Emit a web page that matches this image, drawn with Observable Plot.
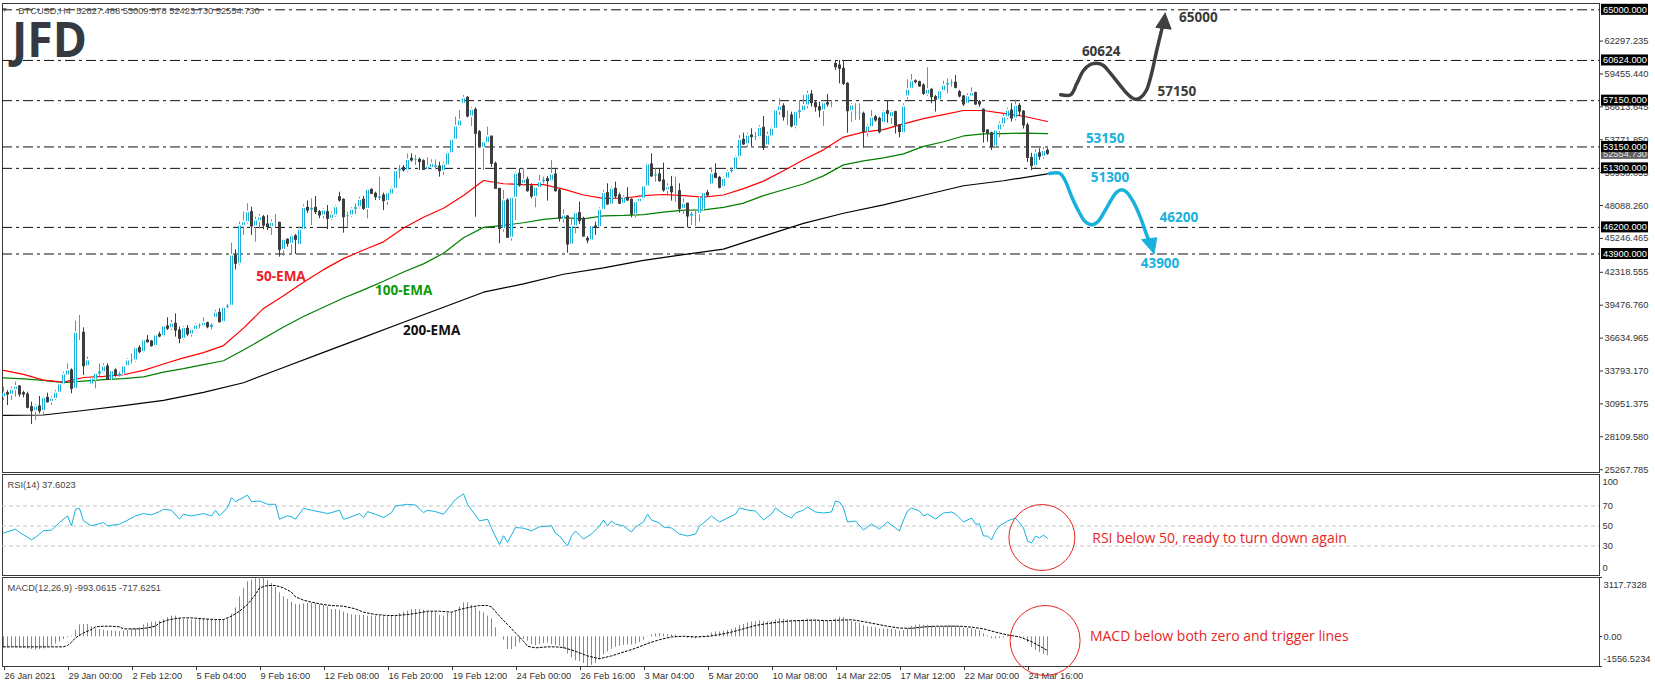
<!DOCTYPE html>
<html><head><meta charset="utf-8">
<script src="https://cdn.jsdelivr.net/npm/d3@7"></script>
<script src="https://cdn.jsdelivr.net/npm/@observablehq/plot@0.6"></script>
<style>
html,body{margin:0;padding:0;background:#fff;overflow:hidden;}
#wrap{position:relative;width:1655px;height:687px;overflow:hidden;background:#fff;}
</style></head><body><div id="wrap"></div>
<script>
// ---------------- DATA ----------------
const symbolTitle = "BTCUSD,H4  52827.488 53009.578 52423.730 52554.730";
const lastPrice = 52554.73;
const open = [
31530,31880,31730,32170,32450,31880,31760,30670,30320,30730,
30320,31470,31100,31390,31910,32630,33400,33840,32250,37000,
37090,34210,32630,33030,33490,33690,34180,33030,33840,33320,
33490,34210,34640,34700,35770,35420,36430,36340,35940,36920,
36800,37640,37490,37870,37290,36570,37440,36950,37350,37640,
37670,37930,37520,38390,38820,38010,39250,39420,43770,43050,
46310,46650,47520,46280,46740,47080,46450,46220,46510,46590,
44260,45130,44780,45440,44690,45990,47890,47660,47890,47520,
47230,47520,46940,47230,48810,48580,47080,47230,47720,47950,
48580,47800,49445,49100,48670,48960,48470,49040,49530,51060,
51340,51115,52125,51980,52040,51920,51170,51340,51340,51460,
51060,51550,52610,53765,54920,56880,57395,55780,56355,54430,
53075,53480,54050,51690,49530,46075,48520,45300,48755,50830,
49965,50310,49735,48810,49620,50110,50370,50195,50770,49390,
46940,47140,44720,46280,47430,46940,45210,45070,46280,46220,
47720,49160,48180,49530,48960,48240,48755,48580,47310,48380,
48670,49735,51635,50600,50770,50250,49390,49675,49240,49330,
47800,48240,47140,47320,47370,47720,49160,49910,50830,50480,
49675,50400,50970,51170,52265,53765,53365,54140,54000,54000,
54800,53270,54050,54720,56240,56650,55780,55870,54920,56070,
56240,56730,57680,56930,56590,56300,56930,56820,60330,60190,
59900,58600,56240,56010,56010,56010,54430,54860,55720,55580,
55210,56240,55720,56160,55000,54340,57510,58170,58830,58750,
58460,57680,58090,57450,57220,57970,58460,58660,58690,57880,
57510,56880,57510,57800,57020,56360,54570,54340,53190,54570,
55090,55700,56300,55600,56700,56200,55000,52200,51500,52600,52300,52827.488];
const high = [
32400,32100,32400,32830,32540,32050,31960,31100,30900,31590,
31590,31880,31590,32110,32830,33690,34410,33980,38100,38590,
37520,34990,33260,33600,34410,34410,34410,33840,33980,33690,
34270,34840,35280,35850,35990,36490,36860,36430,36950,37150,
37720,38390,38160,38730,37580,37640,37720,37440,37870,37870,
38390,38010,37870,39020,39160,39370,39540,44840,44260,46650,
47520,48240,47950,47080,47310,47230,47230,46850,47310,46650,
45210,45210,45560,45580,46220,48150,48490,48670,48870,47660,
47800,48090,47520,48090,49240,48670,47520,47890,48240,48810,
48870,49530,49530,49240,50540,49160,49240,49675,51170,51550,
51550,52555,52555,52410,52210,52040,52210,52040,52040,51835,
51835,52700,53850,55725,56300,57600,57510,56530,56530,54570,
53650,54860,54050,51835,49530,49390,48670,48810,50970,51260,
51260,50540,49965,49675,50685,50540,50600,51980,51260,49530,
47720,47230,46940,47520,48380,47080,45410,46360,46650,47890,
49390,49965,49675,50110,49160,48960,49620,48670,48470,48960,
49820,51750,52555,51260,51260,51750,49965,50600,50540,49965,
48670,48290,47520,47720,48810,49240,49390,51345,51690,50600,
50540,51115,51345,52410,54140,54340,54340,54720,54400,55000,
55780,54430,54860,56360,57310,56880,56240,56160,56240,57160,
57600,57970,58030,57160,57020,57160,57680,57160,60620,60620,
60620,58700,56880,56880,56880,56160,55090,56300,55870,55720,
56300,57110,56300,56240,55090,56880,58950,59410,58950,58830,
58600,59990,58170,57600,58090,58830,59030,58950,59320,58030,
57600,57740,58260,57880,57160,56440,54630,54430,54630,55290,
56000,56500,56900,57200,56900,56300,55200,52600,52900,53000,53100,53009.578];
const low = [
31240,30810,31240,31530,31530,31470,30520,29170,29520,30090,
29950,31010,30810,31240,31820,32540,33320,31820,32170,36430,
33400,34120,32540,32250,33260,33550,32970,32970,33260,33260,
33400,34120,34410,34560,35280,35330,36200,35850,35850,36660,
36720,37290,37290,36720,36140,36430,36780,36720,37230,37440,
37580,37440,37350,38300,37930,37930,39160,39370,42530,42910,
45500,46480,45500,44920,46070,45990,45930,45500,46220,43630,
43690,44490,43915,43860,44640,45930,47400,46360,47310,46940,
46940,45990,46800,47080,48380,45700,46220,47080,47310,47800,
47660,46940,49040,48520,48520,47660,48090,48960,49530,50400,
50990,50970,51840,51550,51115,51115,51115,51170,51170,50540,
50690,51460,52555,53710,54800,56880,55665,54915,47080,53075,
51115,53475,51400,49530,44780,45790,45300,45010,46800,49675,
49735,49240,48670,47890,49530,49965,48470,50110,49240,46650,
46560,43970,44635,45640,46450,45350,44780,45010,45500,46160,
47660,48090,48090,48670,48180,48180,48470,47030,47030,48290,
48580,49675,50540,50110,50110,49240,48870,48470,48380,47430,
47310,46160,46360,46280,46650,47660,48870,49820,50400,49530,
49530,50310,50885,51115,52125,53275,53130,53190,53700,53900,
52840,53190,53940,54630,55870,55380,55000,54800,54720,55580,
56160,56440,56590,56160,55670,54920,56590,56530,59760,58600,
58460,54340,55290,55440,55440,53070,53990,54800,55290,54280,
55090,55210,55090,54280,53940,54280,57220,58090,58600,58320,
57600,57510,56880,56160,57160,57880,57740,58320,58170,57390,
56650,56820,57450,56730,56590,53480,53560,52840,53070,53940,
54900,55500,55300,55400,55800,54700,51800,51100,51300,52000,52100,52423.73];
const close = [
31880,31760,32170,32450,31760,31760,30610,30320,30730,30320,
31470,31100,31390,31910,32630,33490,33840,32250,37090,37090,
34210,34700,33120,33550,33750,34180,33030,33780,33400,33550,
34180,34700,34760,35770,35420,36430,36280,35940,36860,36770,
37640,37440,37870,37290,36570,37490,36950,37350,37720,37780,
37950,37580,37780,38820,38010,39250,39420,43770,43050,46360,
46650,47520,46280,46800,47080,46360,46220,46590,46590,44260,
45125,44780,45440,45125,45990,47890,47660,47890,47520,47230,
47660,46940,47310,47950,48520,47080,47230,47720,47950,48580,
47800,49445,49100,48810,48870,48470,49160,49530,51060,51260,
51115,52040,51980,52125,51840,51170,51460,51690,51550,51060,
51635,52610,53765,54920,55435,57360,55780,56355,54285,53190,
53565,54050,51690,49530,46075,48520,45300,48755,50830,49820,
50310,49330,48870,49620,50110,50310,50195,50770,49330,46940,
47230,44720,46280,47430,46740,45410,45070,46280,46160,47720,
49160,48180,49530,48870,48240,48755,48520,47310,48380,48670,
49735,51635,50600,50770,50195,49390,49675,49240,49330,47800,
48240,47140,47370,47430,48755,49160,48960,50830,50480,49620,
50400,50970,51170,52265,53765,53365,54140,54000,54050,54800,
53070,54140,54720,56300,56650,55720,55870,54920,56160,56300,
56730,57680,56930,56590,56300,56930,56820,56880,60040,59900,
58600,56240,56730,56070,56070,54430,54920,55670,55440,54430,
56160,56010,56160,55000,54430,56650,58090,58830,58750,58370,
57740,58090,57450,57220,57970,58460,58660,58690,58260,57510,
56820,57510,57800,56820,56820,54430,54340,53130,54570,55090,
55700,56300,55600,56700,56200,55000,52200,51500,52600,52300,52800,52554.73];

// EMA readings (bar index, price)
const ema50Bar = [0,5,10,15,20,25,30,35,40,45,50,55,60,65,70,75,80,85,90,95,100,105,110,115,120,125,130,135,140,145,150,155,160,165,170,175,180,185,190,195,200,205,210,215,220,225,230,235,240,245,250,255,261];
const ema50Val = [33840,33500,33000,32830,33230,33330,33470,33850,34400,34930,35380,35990,37500,39200,40300,41450,42550,43500,44250,44950,46150,47080,47850,48950,50250,49970,49900,49900,49500,49000,48700,48720,48950,49040,48950,48820,49000,49550,50200,51100,52050,52900,54000,54430,54650,55150,55600,55950,56300,56300,56050,55800,55350];
const ema100Bar = ema50Bar;
const ema100Val = [33200,33110,32990,32780,32920,33040,33130,33280,33700,33990,34350,34680,35600,36600,37600,38500,39300,40100,40800,41550,42350,43050,43970,45300,46200,46380,46600,46900,47050,46940,47200,47230,47300,47520,47700,47720,47930,48300,48950,49450,49950,50650,51600,51950,52200,52550,53200,53600,54100,54280,54300,54350,54300];
const ema200Bar = [0,10,20,30,40,50,60,70,80,90,100,110,120,130,140,150,160,170,180,190,200,210,220,230,240,250,261];
const ema200Val = [29950,29990,30380,30800,31250,31950,32780,34100,35400,36700,38000,39300,40600,41320,42150,42700,43350,43850,44320,45450,46550,47420,48150,48980,49800,50230,50830];

// Horizontal levels
const levels = [65000, 60624, 57150, 53150, 51300, 46200, 43900];
const priceTicks = [62297.235,59455.440,56613.645,53771.850,50930.055,48088.260,45246.465,42318.555,39476.760,36634.965,33793.170,30951.375,28109.580,25267.785];

// RSI(14) readings
const rsiBar = [0,3,4,7,8,10,12,14,16,17,18,19,20,22,25,26,29,31,33,35,37,39,40,42,44,45,47,50,52,53,54,56,57,58,61,62,64,66,68,69,71,72,73,75,77,80,81,84,85,86,89,90,91,93,95,97,98,101,103,105,106,108,110,113,115,116,119,121,122,124,125,126,128,130,132,134,137,138,
139,141,142,143,145,147,149,150,151,152,153,155,157,158,160,161,162,164,165,167,169,171,173,174,175,177,179,181,183,184,186,188,190,192,193,195,197,198,200,201,203,205,207,208,209,210,211,213,215,217,219,221,223,224,225,226,227,229,230,231,233,235,237,238,239,240,242,243,244,245,246,247,248,249,251,253,255,256,257,258,259,260,261];
const rsiVal = [42.9,46.9,43.6,36.3,38.6,45.2,45.9,53.5,60.1,50.2,66.7,67.7,55.1,50.2,53.5,50.2,51.8,55.8,60.1,62.4,61.1,64.4,66.7,65.7,56.8,61.7,60.1,62.4,60.1,65.7,60.1,68.3,78.3,74.3,80.9,74.3,75,71.7,71.7,56.8,60.1,59.1,56.8,67.7,65.7,63.4,62.4,65.7,56.8,57.8,62.4,58.4,64.4,61.7,58.4,63.4,70,71.7,71,63.4,65.7,64.4,61.7,76.6,82.2,71.7,55.1,56.8,47.8,31.3,40.2,33.6,48.5,47.8,45.2,49.2,50.2,42.6,
40,30,40,45,37,42,50,56,50,55,52,50,44,49,54,62,56,53,49,48,42,40,42,50,53,60,54,58,62,68,66,65,56,62,68,62,58,63,66,69,64,63,64,75,74,68,54,55,46,52,47,54,48,45,56,65,68,65,60,62,57,63,64,62,58,54,58,52,52,40,40,36,45,50,55,58,48,35,33,40,38,41,37.6023];
const rsiLevels = [70, 50, 30];
const rsiAxis = [100, 70, 50, 30, 0];

// MACD(12,26,9) main (histogram), one per bar
const macdMain = [
-578,-578,-525,-578,-578,-613,-630,-665,-700,-665,
-630,-545,-490,-380,-270,-140,-53,35,350,630,
648,648,525,420,385,350,315,315,298,280,
300,340,400,440,473,630,700,770,788,823,
900,1000,1086,1086,963,911,911,890,876,911,
911,911,876,876,876,911,946,1190,1523,2100,
2550,2900,2980,3050,3117.7,3080,2960,2800,2600,2311,
2101,1961,1821,1698,1698,1730,1751,1751,1730,1698,
1646,1576,1436,1436,1401,1296,1226,1156,1138,1121,
1121,1086,1086,1086,1086,1051,1051,1086,1121,1226,
1296,1348,1436,1436,1436,1401,1320,1296,1261,1121,
1086,1226,1261,1296,1576,1786,1786,1646,1523,1348,
1261,1090,946,473,0,-175,-665,-665,-525,-315,
-140,-228,-403,-455,-403,-350,-315,-403,-455,-490,
-650,-900,-1100,-1250,-1300,-1400,-1556.5,-1500,-1400,-1200,
-950,-800,-650,-550,-500,-450,-420,-430,-380,-300,
-180,20,100,160,170,140,120,100,90,20,
-20,-80,-100,-110,-50,40,80,200,260,260,
290,340,390,470,590,650,730,780,810,850,
790,790,810,890,950,930,910,850,860,870,
890,930,910,870,830,820,800,780,940,1040,
1010,870,810,750,690,590,530,510,480,410,
410,410,400,360,300,330,440,550,610,630,
610,610,570,530,530,550,570,580,570,530,
460,430,420,370,320,160,50,-90,-110,-90,
-60,-30,-10,20,10,-60,-310,-560,-710,-830,-930,-993.0615];
// MACD signal line readings (bar index, value)
const sigBar = [0,15,16,17,18,20,22,23,25,27,29,30,32,34,36,38,39,41,43,45,47,50,53,55,57,59,61,63,64,66,68,70,72,73,75,77,80,82,85,88,90,93,96,98,101,104,106,109,112,114,117,119,121,122,124,126,128,130,131,133,136,138,
140,143,146,149,152,155,158,161,164,167,170,173,176,179,182,185,188,191,194,197,200,203,206,209,212,215,218,221,224,227,230,233,236,239,242,245,248,251,254,257,259,261];
const sigVal = [-525,-525,-455,-280,-53,210,385,525,560,560,525,420,420,420,473,560,735,876,963,998,998,946,911,911,1086,1348,1698,2224,2574,2697,2697,2574,2346,2101,1926,1821,1698,1646,1611,1471,1296,1173,1121,1121,1173,1261,1348,1348,1296,1436,1576,1646,1646,1576,1086,648,210,-228,-490,-578,-525,-525,
-560,-760,-1000,-1150,-1000,-800,-600,-350,-150,0,30,0,20,120,250,420,600,700,780,840,860,880,850,880,900,800,680,560,460,450,520,560,560,560,510,420,250,100,0,-250,-480,-717.6251];
const macdAxis = [3117.7328, 0, -1556.5234];

// x axis labels (every 16 bars)
const xTickBars = [0,16,32,48,64,80,96,112,128,144,160,176,192,208,224,240,256];
const xLabels = ["26 Jan 2021","29 Jan 00:00","2 Feb 12:00","5 Feb 04:00","9 Feb 16:00","12 Feb 08:00","16 Feb 20:00","19 Feb 12:00","24 Feb 00:00","26 Feb 16:00","3 Mar 04:00","5 Mar 20:00","10 Mar 08:00","14 Mar 22:05","17 Mar 12:00","22 Mar 00:00","24 Mar 16:00"];

// Scenario annotations (bar index, price)
const bullPathBar = [264.3,266.8,268.3,270.0,271.7,273.3,275.0,276.7,279.2,281.2,282.9,284.2,285.7,287.1,288.3,289.6];
const bullPathVal = [57656,57656,58606,59755,60274,60386,60187,59522,58459,57656,57275,57397,58027,59609,61484,63358];
const bullHeadBar = [290.4,288.1,291.9,290.4];
const bullHeadVal = [64706,63480,63330,64706];
const bearPathBar = [261.5,264.15,265.4,267.1,268.7,270.4,272.1,273.7,275.4,277.1,278.3,279.6,280.8,282.5,284.2,285.7,286.7];
const bearPathVal = [50856,50856,50251,48808,47659,46709,46424,46735,47659,48670,49240,49448,49240,48377,47080,45646,44782];
const bearHeadBar = [287.65,284.5,288.3,287.65];
const bearHeadVal = [43919,45150,45300,43919];
const scenarioLabels = ["65000","60624","57150","53150","51300","46200","43900"];
const scenarioBar = [293.9,269.6,288.5,270.6,271.8,289.0,284.3];
const scenarioVal = [64361,61397,57941,53906,50537,47081,43106];
const scenarioBull = [true,true,true,false,false,false,false];
const emaLabels = ["50-EMA","100-EMA","200-EMA"];
const emaLabelBar = [63.2,92.9,99.9];
const emaLabelVal = [41957,40747,37291];

const rsiNote = "RSI below 50, ready to turn down again";
const macdNote = "MACD below both zero and trigger lines";

// ---------------- CHART ----------------
const W = 1655;
const CY = "#19b1dc", DK = "#3d3d3d", FRAME = "#3a3a3a", RED = "#e8251f";
const FONT = '"Liberation Sans", Arial, sans-serif';
const BOLD = '"Open Sans", "Liberation Sans", sans-serif';
const STYLE = `background:transparent;font-family:${FONT};font-size:9.3px;color:#333;overflow:visible;max-width:none;`;
const X_DOMAIN = [-0.25, 399];
const base = {width: W, marginLeft: 2, marginRight: 56, style: STYLE, x: {domain: X_DOMAIN, axis: null}, color: {type: "identity"}};

const bars = close.map((c, i) => ({i, o: open[i], h: high[i], l: low[i], c, up: c >= open[i]}));
const zip = (a, b) => a.map((x, k) => ({i: x, v: b[k]}));
const ema50 = zip(ema50Bar, ema50Val), ema100 = zip(ema100Bar, ema100Val), ema200 = zip(ema200Bar, ema200Val);
const rsi = zip(rsiBar, rsiVal);
const macd = macdMain.map((v, i) => ({i, v}));
const signal = zip(sigBar, sigVal);
const scen = scenarioLabels.map((t, k) => ({t, i: scenarioBar[k], v: scenarioVal[k], c: scenarioBull[k] ? "#3a3a3a" : CY}));
const emaLab = emaLabels.map((t, k) => ({t, i: emaLabelBar[k], v: emaLabelVal[k], c: ["#ee1c24", "#0a9a0a", "#111"][k]}));

const main = Plot.plot({
  ...base, height: 476, marginTop: 3, marginBottom: 4,
  y: {domain: [25022.7, 65544.3], axis: null},
  marks: [
    Plot.frame({stroke: FRAME}),
    Plot.ruleY(levels, {stroke: "#111", strokeWidth: 1, strokeDasharray: "10,4,3,4"}),
    Plot.line(ema200, {x: "i", y: "v", stroke: "#000", strokeWidth: 1.2}),
    Plot.line(ema100, {x: "i", y: "v", stroke: "#008000", strokeWidth: 1.2}),
    Plot.line(ema50, {x: "i", y: "v", stroke: "#ff0000", strokeWidth: 1.2}),
    Plot.ruleX(bars, {x: "i", y1: "l", y2: "h", stroke: d => d.up ? CY : DK, strokeWidth: 1}),
    Plot.ruleX(bars, {x: "i", y1: "o", y2: "c", stroke: d => d.up ? CY : DK, strokeWidth: 3, insetTop: -0.5, insetBottom: -0.5}),
    Plot.ruleX(bars.filter(d => d.up && d.c - d.o > 260), {x: "i", y1: "o", y2: "c", stroke: "#fff", strokeWidth: 1, insetTop: 1, insetBottom: 1}),
    Plot.line(zip(bullPathBar, bullPathVal), {x: "i", y: "v", stroke: "#3f3f3f", strokeWidth: 3.5, curve: "catmull-rom"}),
    Plot.line(zip(bullHeadBar, bullHeadVal), {x: "i", y: "v", stroke: "#3f3f3f", fill: "#3f3f3f", strokeWidth: 1}),
    Plot.line(zip(bearPathBar, bearPathVal), {x: "i", y: "v", stroke: CY, strokeWidth: 3.5, curve: "catmull-rom"}),
    Plot.line(zip(bearHeadBar, bearHeadVal), {x: "i", y: "v", stroke: CY, fill: CY, strokeWidth: 1}),
    Plot.text(scen, {x: "i", y: "v", text: "t", fill: "c", textAnchor: "start", fontFamily: BOLD, fontWeight: "bold", fontSize: 13.5}),
    Plot.text(emaLab, {x: "i", y: "v", text: "t", fill: "c", textAnchor: "start", fontFamily: BOLD, fontWeight: "bold", fontSize: 13.5}),
    Plot.axisY({anchor: "right", ticks: priceTicks, tickSize: 3, tickPadding: 2, label: null, tickFormat: d => d.toFixed(3)})
  ]
});

const rsiPlot = Plot.plot({
  ...base, height: 106, marginTop: 4, marginBottom: 1,
  y: {domain: [0.5, 101.5], axis: null},
  marks: [
    Plot.frame({stroke: FRAME}),
    Plot.ruleY(rsiLevels, {stroke: "#c4c4c4", strokeDasharray: "4,3"}),
    Plot.line(rsi, {x: "i", y: "v", stroke: CY, strokeWidth: 1}),
    Plot.text(rsiAxis, {y: d => d, frameAnchor: "right", dx: 3, textAnchor: "start", fill: "#333", text: d => String(d)}),
    Plot.text(["RSI(14) 37.6023"], {frameAnchor: "top-left", dx: 5, dy: 10.5, textAnchor: "start", lineAnchor: "middle", fill: "#444"}),
    Plot.dot([{i: 259.6, v: 38.5}], {x: "i", y: "v", r: 33, stroke: RED, fill: "none", strokeWidth: 1}),
    Plot.text([{i: 272.2, v: 37.5}], {x: "i", y: "v", text: () => rsiNote, textAnchor: "start", fill: RED, fontFamily: BOLD, fontSize: 14})
  ]
});

const macdPlot = Plot.plot({
  ...base, height: 115, marginTop: 5, marginBottom: 21,
  y: {domain: [-1556.5234, 3117.7328], axis: null},
  marks: [
    Plot.frame({stroke: FRAME}),
    Plot.ruleX(macd, {x: "i", y1: 0, y2: "v", stroke: CY, strokeWidth: 1}),
    Plot.line(signal, {x: "i", y: "v", stroke: "#000", strokeWidth: 1, strokeDasharray: "2,2"}),
    Plot.text(macdAxis, {y: d => d, frameAnchor: "right", dx: 4, textAnchor: "start", fill: "#333", text: d => d === 0 ? "0.00" : d.toFixed(4)}),
    Plot.axisX({anchor: "bottom", ticks: xTickBars, tickSize: 4, tickPadding: 2, textAnchor: "start", dx: 1, label: null, tickFormat: d => xLabels[xTickBars.indexOf(d)]}),
    Plot.text(["MACD(12,26,9) -993.0615 -717.6251"], {frameAnchor: "top-left", dx: 5, dy: 10.5, textAnchor: "start", lineAnchor: "middle", fill: "#444"}),
    Plot.dot([{i: 260.4, v: -191.7}], {x: "i", y: "v", r: 35, stroke: RED, fill: "none", strokeWidth: 1}),
    Plot.text([{i: 271.6, v: 18.5}], {x: "i", y: "v", text: () => macdNote, textAnchor: "start", fill: RED, fontFamily: BOLD, fontSize: 14})
  ]
});

// shift the outermost RSI / MACD axis labels inside their panels, as the platform does
function nudgeLabels(plot, shifts) {
  d3.select(plot).selectAll("text").each(function () {
    const el = d3.select(this);
    const txt = el.text();
    shifts.forEach(([label, dy]) => { if (txt === label) el.attr("transform", (el.attr("transform") || "") + ` translate(0,${dy})`); });
  });
}
nudgeLabels(rsiPlot, [["100", 6.5], ["0", -7.5]]);
nudgeLabels(macdPlot, [["3117.7328", 8], ["-1556.5234", -7]]);

// small tick marks next to MACD labels
(function () {
  const sy = macdPlot.scale("y");
  const g = d3.select(macdPlot).append("g").attr("stroke", "#333");
  macdAxis.forEach(v => { const y = Math.round(sy.apply(v)) + 0.5; g.append("line").attr("x1", 1599).attr("x2", 1602).attr("y1", y).attr("y2", y); });
})();

// ---- decorations: price boxes, title, logo ----
(function () {
  const sy = main.scale("y");
  const g = d3.select(main).append("g").attr("font-family", FONT).attr("font-size", 9.3).attr("text-anchor", "start");
  const box = (v, bg, fg) => {
    const y = sy.apply(v);
    g.append("rect").attr("x", 1601).attr("y", y - 5.5).attr("width", 47).attr("height", 11).attr("fill", bg);
    g.append("text").attr("x", 1603).attr("y", y).attr("dy", "0.35em").attr("fill", fg).text(v.toFixed(3));
  };
  box(lastPrice, "#5e5e5e", "#e6e6e6");
  levels.forEach(v => box(v, "#000", "#fff"));
  const t = d3.select(main).append("g").attr("text-anchor", "start");
  t.append("path").attr("d", "M2.7,8.3L6.9,8.3L4.8,11.8Z").attr("fill", "#555");
  t.append("text").attr("x", 18.3).attr("y", 14.2).attr("font-family", FONT).attr("font-size", 9.3).attr("fill", "#4a4a4a").text(symbolTitle);
  t.append("text").attr("x", 12).attr("y", 57).attr("font-family", BOLD).attr("font-weight", "bold").attr("font-size", 49)
    .attr("textLength", 75).attr("lengthAdjust", "spacingAndGlyphs").attr("fill", "#353a41").text("JFD");
})();

const wrap = document.getElementById("wrap");
[[main, 0], [rsiPlot, 470], [macdPlot, 572]].forEach(([svg, top]) => {
  svg.style.position = "absolute"; svg.style.left = "0px"; svg.style.top = top + "px";
  wrap.appendChild(svg);
});
</script></body></html>
